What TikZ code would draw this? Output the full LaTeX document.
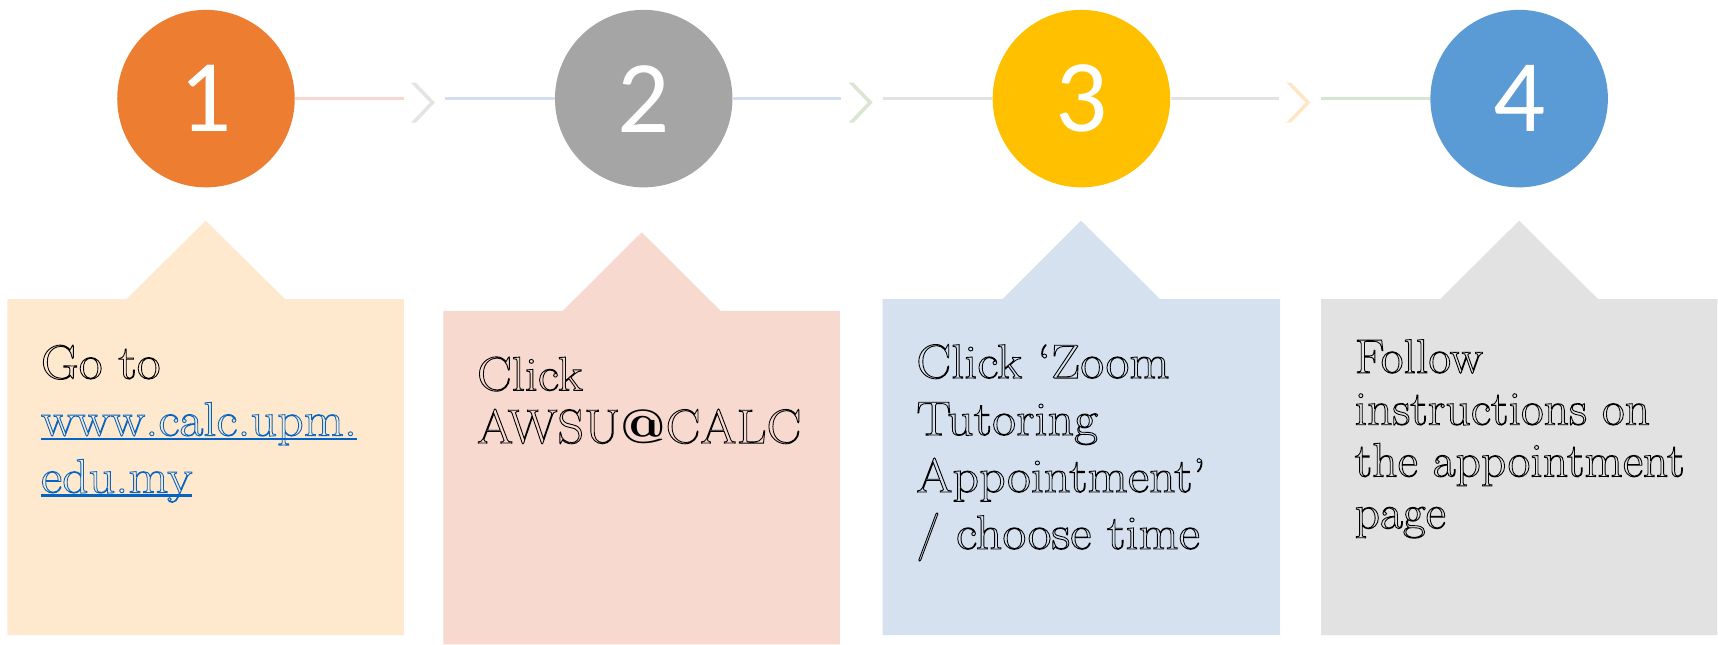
\documentclass[tikz,border=0pt]{standalone}
\usepackage{fontspec}
\setmainfont{Latin Modern Roman}[FakeStretch=1.08]
\newfontfamily\narrowfont{Latin Modern Roman}[FakeStretch=1.03]
\newfontfamily\numfont{Carlito}
\definecolor{cone}{HTML}{ED7D31}
\definecolor{ctwo}{HTML}{A5A5A5}
\definecolor{cthree}{HTML}{FFC000}
\definecolor{cfour}{HTML}{5B9BD5}
\definecolor{bone}{HTML}{FEE9CF}
\definecolor{btwo}{HTML}{F7D9CF}
\definecolor{bthree}{HTML}{D5E1EF}
\definecolor{bfour}{HTML}{E2E2E2}
\definecolor{lsalmon}{HTML}{F9D7CC}
\definecolor{lblue}{HTML}{D3DFEF}
\definecolor{lgray}{HTML}{E2E2E2}
\definecolor{lgreen}{HTML}{D6E5CE}
\definecolor{chgray}{HTML}{E4E4E4}
\definecolor{chgreen}{HTML}{D8E6D2}
\definecolor{chorange}{HTML}{FFE6C7}
\definecolor{urlblue}{HTML}{0563C1}
\newlength\ulw
\newcommand\myul[1]{\settowidth\ulw{#1}\rlap{\rule[-1.8pt]{\ulw}{1pt}}#1}
\newcommand\olon{\special{pdf:literal direct 1 Tr 0.4 w}}
\newcommand\oloff{\special{pdf:literal direct 0 Tr}}
\tikzset{
  num/.style={circle, minimum size=81pt, inner sep=0pt, text=white,
    font=\numfont\fontsize{47}{50}\selectfont},
  conn/.style={line width=1.1pt},
  steptext/.style={anchor=north west, inner sep=0pt, align=left, text=black},
}
\begin{document}
\begin{tikzpicture}[x=0.5pt,y=-0.5pt]
\useasboundingbox (0,0) rectangle (1568,588);
% boxes
\fill[bone] (6.7,272.9) -- (115.6,272.9) -- (187.7,201.4) -- (260.1,272.9) -- (368.7,272.9) -- (368.7,579.6) -- (6.7,579.6) -- cycle;
\fill[btwo] (404.6,283.8) -- (513.6,283.8) -- (585.7,212) -- (657.8,283.8) -- (766.7,283.8) -- (766.7,588) -- (404.6,588) -- cycle;
\fill[bthree] (805.6,272.9) -- (915.1,272.9) -- (986.6,201.4) -- (1058.7,272.9) -- (1168.3,272.9) -- (1168.3,579.6) -- (805.6,579.6) -- cycle;
\fill[bfour] (1205.7,272.9) -- (1314.5,272.9) -- (1386.5,201.4) -- (1458.5,272.9) -- (1567.5,272.9) -- (1567.5,579.6) -- (1205.7,579.6) -- cycle;
% circles
\node[num, fill=cone] (n1) at (188,90) {1};
\node[num, fill=ctwo] (n2) at (587.5,90) {2};
\node[num, fill=cthree] (n3) at (987,90) {3};
\node[num, fill=cfour] (n4) at (1386.5,90) {4};
% connector points
\coordinate (a1) at (368.5,90);
\coordinate (b1) at (406.5,90);
\coordinate (a2) at (768,90);
\coordinate (b2) at (806,90);
\coordinate (a3) at (1167.7,90);
\coordinate (b3) at (1205.7,90);
\draw[conn, lsalmon] (n1.east) -- (a1);
\draw[conn, lblue] (b1) -- (n2.west);
\draw[conn, lblue] (n2.east) -- (a2);
\draw[conn, lgray] (b2) -- (n3.west);
\draw[conn, lgray] (n3.east) -- (a3);
\draw[conn, lgreen] (b3) -- (n4.west);
% chevrons
\fill[chgray] (375,75.5) -- (379.5,75.5) -- (397,93.5) -- (379.5,112) -- (375,112) -- (392.5,93.5) -- cycle;
\fill[chgreen] (774.5,75.5) -- (779,75.5) -- (796.5,93.5) -- (779,112) -- (774.5,112) -- (792,93.5) -- cycle;
\fill[chorange] (1174,75.5) -- (1178.5,75.5) -- (1196,93.5) -- (1178.5,112) -- (1174,112) -- (1191.5,93.5) -- cycle;
% texts
\node[steptext, font=\fontsize{22}{26}\selectfont] (t1) at (37,309.3)
  {\olon\rule{0pt}{18pt}Go to\\ {\color{urlblue}\myul{www.calc.upm.}}\\ {\color{urlblue}\myul{edu.my}}\oloff};
\node[steptext, font=\fontsize{22}{24}\selectfont] (t2) at (435,320)
  {\olon\rule{0pt}{18pt}Click\\ AWSU\oloff{\bfseries @}\olon CALC\oloff};
\node[steptext, font=\fontsize{22}{26}\selectfont] (t3) at (836,308.7)
  {\olon\rule{0pt}{18pt}Click ‘Zoom\\ Tutoring\\ Appointment’\\ / choose time\oloff};
\node[steptext, font=\narrowfont\fontsize{22}{23.65}\selectfont] (t4) at (1236,304)
  {\olon\rule{0pt}{18pt}Follow\\ instructions on\\ the appointment\\ page\oloff};
\end{tikzpicture}
\end{document}
